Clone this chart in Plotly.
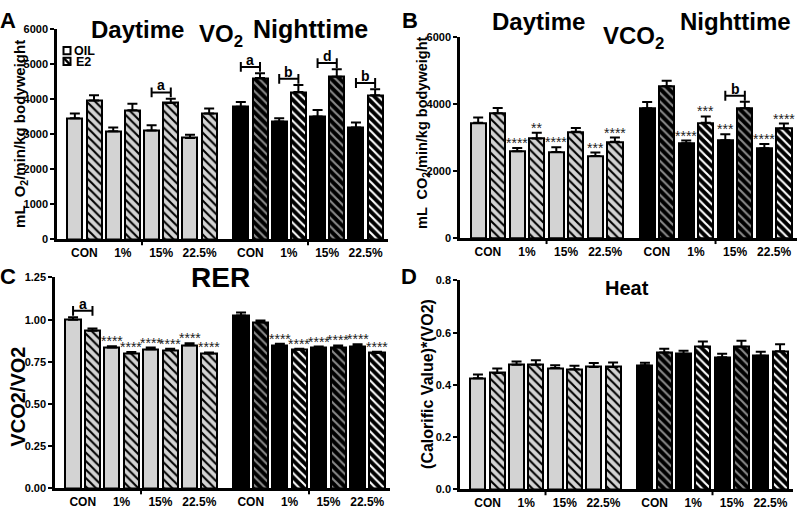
import plotly.graph_objects as go

W, H = 800, 512
groups = ["CON", "1%", "15%", "22.5%"]

# ---- Panel A: VO2 ----
vo2_oil_day = [3460, 3090, 3110, 2900]
vo2_oil_day_err = [140, 110, 150, 90]
vo2_e2_day = [3970, 3690, 3900, 3600]
vo2_e2_day_err = [150, 190, 120, 140]
vo2_oil_night = [3790, 3370, 3510, 3200]
vo2_oil_night_err = [140, 95, 185, 140]
vo2_e2_night = [4610, 4210, 4650, 4120]
vo2_e2_night_err = [140, 200, 210, 170]
vo2_letters_day = ["", "", "a", ""]
vo2_letters_night = ["a", "b", "d", "b"]

# ---- Panel B: VCO2 ----
vco2_oil_day = [3450, 2600, 2580, 2460]
vco2_oil_day_err = [160, 100, 140, 100]
vco2_e2_day = [3730, 2980, 3180, 2880]
vco2_e2_day_err = [160, 170, 110, 130]
vco2_oil_night = [3880, 2840, 2930, 2690]
vco2_oil_night_err = [190, 80, 175, 125]
vco2_e2_night = [4540, 3450, 3880, 3280]
vco2_e2_night_err = [165, 190, 195, 145]
vco2_stars_oil_day = ["", "****", "****", "***"]
vco2_stars_e2_day = ["", "**", "", "****"]
vco2_stars_oil_night = ["", "****", "***", "****"]
vco2_stars_e2_night = ["", "***", "", "****"]
vco2_letters_day = ["", "", "", ""]
vco2_letters_night = ["", "", "b", ""]

# ---- Panel C: RER ----
rer_oil_day = [1.00, 0.835, 0.825, 0.848]
rer_oil_day_err = [0.015, 0.007, 0.010, 0.012]
rer_e2_day = [0.935, 0.802, 0.820, 0.800]
rer_e2_day_err = [0.012, 0.007, 0.008, 0.006]
rer_oil_night = [1.025, 0.850, 0.833, 0.842]
rer_oil_night_err = [0.018, 0.007, 0.008, 0.012]
rer_e2_night = [0.985, 0.821, 0.837, 0.803]
rer_e2_night_err = [0.010, 0.007, 0.010, 0.007]
rer_stars_oil_day = ["", "****", "****", "****"]
rer_stars_e2_day = ["", "****", "****", "****"]
rer_stars_oil_night = ["", "****", "****", "****"]
rer_stars_e2_night = ["", "****", "****", "****"]
rer_letters_day = ["a", "", "", ""]
rer_letters_night = ["", "", "", ""]

# ---- Panel D: Heat ----
heat_oil_day = [0.425, 0.477, 0.465, 0.469]
heat_oil_day_err = [0.015, 0.013, 0.010, 0.015]
heat_e2_day = [0.446, 0.477, 0.460, 0.469]
heat_e2_day_err = [0.017, 0.017, 0.013, 0.017]
heat_oil_night = [0.475, 0.519, 0.506, 0.512]
heat_oil_night_err = [0.010, 0.012, 0.013, 0.015]
heat_e2_night = [0.524, 0.546, 0.546, 0.529]
heat_e2_night_err = [0.014, 0.020, 0.023, 0.027]

NIGHT_OFF = 8.65
oil_x = [2 * i for i in range(4)] + [NIGHT_OFF + 2 * i for i in range(4)]
e2_x = [x + 1 for x in oil_x]
pair_c = [x + 0.5 for x in oil_x]
sep_ticks = [3.5, NIGHT_OFF + 3.5]
XR = [-0.93, 16.32]

LIGHT = "#d3d3d3"
FONT = "Liberation Sans"
# E2 bar styling: (background, stripe colour) for the 8 bars (day x4, night x4)
E2_STYLE = [(LIGHT, "black")] * 4 + [("black", "#8a8a8a"), ("black", "white"),
                                      ("black", "#8a8a8a"), ("black", "white")]

panels = [
    dict(name="A", xd=(57, 388), yd=(24, 239), rng=[0, 6000], tickvals=[0, 1000, 2000, 3000, 4000, 5000, 6000], fmt="{:d}",
         oil=(vo2_oil_day + vo2_oil_night, vo2_oil_day_err + vo2_oil_night_err),
         e2=(vo2_e2_day + vo2_e2_night, vo2_e2_day_err + vo2_e2_night_err),
         stars_oil=[""] * 8, stars_e2=[""] * 8,
         letters=vo2_letters_day + vo2_letters_night),
    dict(name="B", xd=(460, 797), yd=(32, 238), rng=[0, 6000], tickvals=[0, 2000, 4000, 6000], fmt="{:d}",
         oil=(vco2_oil_day + vco2_oil_night, vco2_oil_day_err + vco2_oil_night_err),
         e2=(vco2_e2_day + vco2_e2_night, vco2_e2_day_err + vco2_e2_night_err),
         stars_oil=vco2_stars_oil_day + vco2_stars_oil_night,
         stars_e2=vco2_stars_e2_day + vco2_stars_e2_night,
         letters=vco2_letters_day + vco2_letters_night),
    dict(name="C", xd=(55, 390), yd=(278, 494), rng=[0, 1.25], tickvals=[0, 0.25, 0.5, 0.75, 1.0, 1.25], fmt="{:.2f}",
         oil=(rer_oil_day + rer_oil_night, rer_oil_day_err + rer_oil_night_err),
         e2=(rer_e2_day + rer_e2_night, rer_e2_day_err + rer_e2_night_err),
         stars_oil=rer_stars_oil_day + rer_stars_oil_night,
         stars_e2=rer_stars_e2_day + rer_stars_e2_night,
         letters=rer_letters_day + rer_letters_night),
    dict(name="D", xd=(460, 793), yd=(281, 495), rng=[0, 0.8], tickvals=[0, 0.2, 0.4, 0.6, 0.8], fmt="{:.1f}",
         oil=(heat_oil_day + heat_oil_night, heat_oil_day_err + heat_oil_night_err),
         e2=(heat_e2_day + heat_e2_night, heat_e2_day_err + heat_e2_night_err),
         stars_oil=[""] * 8, stars_e2=[""] * 8,
         letters=[""] * 8),
]

fig = go.Figure()
annotations = []
shapes = []
layout = dict(width=W, height=H, margin=dict(l=0, r=0, t=0, b=0),
              paper_bgcolor="white", plot_bgcolor="white", showlegend=False,
              font=dict(family=FONT, color="black"), bargap=0, barmode="overlay")

for k, p in enumerate(panels):
    sfx = "" if k == 0 else str(k + 1)
    xa, ya = "x" + sfx, "y" + sfx
    oil_y, oil_e = p["oil"]
    e2_y, e2_e = p["e2"]
    fig.add_trace(go.Bar(
        x=oil_x, y=oil_y, width=0.78, xaxis=xa, yaxis=ya, name="OIL",
        marker=dict(color=[LIGHT] * 4 + ["black"] * 4, line=dict(color="black", width=2)),
        error_y=dict(type="data", symmetric=False, array=oil_e, arrayminus=[0] * 8,
                     color="black", thickness=2, width=5)))
    # E2 bars, one trace per (background, stripe) style
    for style in dict.fromkeys(E2_STYLE):
        idx = [i for i, s in enumerate(E2_STYLE) if s == style]
        bg, fg = style
        fig.add_trace(go.Bar(
            x=[e2_x[i] for i in idx], y=[e2_y[i] for i in idx], width=0.78, xaxis=xa, yaxis=ya, name="E2",
            marker=dict(color=bg, line=dict(color="black", width=2),
                        pattern=dict(shape="\\", fillmode="replace", size=6, solidity=0.35,
                                     fgcolor=fg, bgcolor=bg)),
            error_y=dict(type="data", symmetric=False, array=[e2_e[i] for i in idx],
                         arrayminus=[0] * len(idx), color="black", thickness=2, width=5)))
    span = p["rng"][1] - p["rng"][0]
    # significance stars
    for xs, ys, es, st in [(oil_x, oil_y, oil_e, p["stars_oil"]), (e2_x, e2_y, e2_e, p["stars_e2"])]:
        for xv, yv, ev, s in zip(xs, ys, es, st):
            if s:
                annotations.append(dict(x=xv, y=yv + ev, xref=xa, yref=ya, text=s, showarrow=False,
                                        yanchor="bottom", yshift=-5, font=dict(size=14, color="#222")))
    # brackets
    for i, let in enumerate(p["letters"]):
        if let:
            top = max(oil_y[i] + oil_e[i], e2_y[i] + e2_e[i])
            yb = top + 0.03 * span
            fig.add_trace(go.Scatter(
                x=[oil_x[i], e2_x[i]], y=[yb, yb], xaxis=xa, yaxis=ya, mode="lines+markers",
                line=dict(color="black", width=2),
                marker=dict(symbol="line-ns", size=7, line=dict(color="black", width=2))))
            annotations.append(dict(x=pair_c[i], y=yb, xref=xa, yref=ya, text="<b>%s</b>" % let,
                                    showarrow=False, yanchor="bottom", yshift=-3, font=dict(size=14)))
    for st in sep_ticks:
        shapes.append(dict(type="line", xref=xa, yref=ya + " domain", x0=st, x1=st, y0=0, y1=-0.028,
                           line=dict(color="black", width=2)))
    layout["xaxis" + sfx] = dict(domain=[p["xd"][0] / W, p["xd"][1] / W], anchor=ya, range=XR,
                                 showline=True, linecolor="black", linewidth=2.5, showgrid=False,
                                 zeroline=False, ticks="", tickmode="array", tickvals=pair_c,
                                 ticktext=["<b>%s</b>" % g for g in groups * 2],
                                 tickfont=dict(size=12, family=FONT))
    layout["yaxis" + sfx] = dict(domain=[1 - p["yd"][1] / H, 1 - p["yd"][0] / H], anchor=xa, range=p["rng"],
                                 showline=True, linecolor="black", linewidth=2.5, showgrid=False,
                                 zeroline=False, ticks="outside", ticklen=4, tickwidth=2, tickcolor="black",
                                 tickmode="array", tickvals=p["tickvals"],
                                 ticktext=["<b>%s</b>" % p["fmt"].format(v) for v in p["tickvals"]],
                                 tickfont=dict(size=11, family=FONT))


def txt(x, y, s, size, angle=0, xanchor="center"):
    annotations.append(dict(x=x / W, y=1 - y / H, xref="paper", yref="paper", text=s, showarrow=False,
                            xanchor=xanchor, yanchor="middle", textangle=angle,
                            font=dict(size=size, family=FONT, color="black")))


def px_rect(x0, y0, x1, y1, **kw):
    d = dict(type="rect", xref="paper", yref="paper", x0=x0 / W, x1=x1 / W, y0=1 - y0 / H, y1=1 - y1 / H)
    d.update(kw)
    shapes.append(d)


# legend (panel A)
px_rect(63.5, 42, 70.5, 49.5, line=dict(color="black", width=2), fillcolor="white")
px_rect(63.5, 53, 70.5, 60.5, line=dict(color="black", width=2), fillcolor="white")
shapes.append(dict(type="line", xref="paper", yref="paper", x0=63.5 / W, x1=70.5 / W,
                   y0=1 - 53 / H, y1=1 - 60.5 / H, line=dict(color="black", width=2.5)))
txt(72, 46, "<b>OIL</b>", 12.5, xanchor="left")
txt(74, 57.5, "<b>E2</b>", 12.5, xanchor="left")

# panel letters
txt(8, 15, "<b>A</b>", 22)
txt(410, 15, "<b>B</b>", 22)
txt(8, 277, "<b>C</b>", 22)
txt(409, 277, "<b>D</b>", 22)
# titles
txt(137, 24, "<b>Daytime</b>", 24)
txt(221, 30, "<b>VO<sub>2</sub></b>", 24)
txt(310, 24, "<b>Nighttime</b>", 25)
txt(538, 16, "<b>Daytime</b>", 24)
txt(633, 32, "<b>VCO<sub>2</sub></b>", 24)
txt(735, 16, "<b>Nighttime</b>", 24)
txt(220, 278, "<b>RER</b>", 28)
txt(627, 289, "<b>Heat</b>", 20)
# y titles
txt(21, 131, "<b>mL  O<sub>2</sub>/min/kg bodyweight</b>", 15, -90)
txt(423, 130, "<b>mL  CO<sub>2</sub>/min/kg bodyweight</b>", 14.5, -90)
txt(18, 400, "<b>VCO2/VO2</b>", 20, -90)
txt(428, 387, "<b>(Calorific Value)*(VO2)</b>", 16, -90)

layout["annotations"] = annotations
layout["shapes"] = shapes
fig.update_layout(**layout)
fig.write_html("out.html", config={"displayModeBar": False},
               post_script="document.body.style.margin='0';document.body.style.overflow='hidden';")
